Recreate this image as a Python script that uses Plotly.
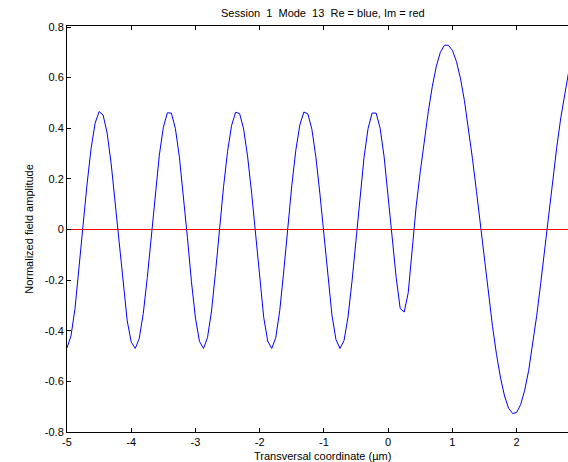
import plotly.graph_objects as go

# Transversal coordinate (µm)
x_um = [-5.0, -4.9375, -4.875, -4.8125, -4.75, -4.6875, -4.625, -4.5625, -4.5, -4.4375,
        -4.375, -4.3125, -4.25, -4.1875, -4.125, -4.0625, -4.0, -3.9375, -3.875, -3.8125,
        -3.75, -3.6875, -3.625, -3.5625, -3.5, -3.4375, -3.375, -3.3125, -3.25, -3.1875,
        -3.125, -3.0625, -3.0, -2.9375, -2.875, -2.8125, -2.75, -2.6875, -2.625, -2.5625,
        -2.5, -2.4375, -2.375, -2.3125, -2.25, -2.1875, -2.125, -2.0625, -2.0, -1.9375,
        -1.875, -1.8125, -1.75, -1.6875, -1.625, -1.5625, -1.5, -1.4375, -1.375, -1.3125,
        -1.25, -1.1875, -1.125, -1.0625, -1.0, -0.9375, -0.875, -0.8125, -0.75, -0.6875,
        -0.625, -0.5625, -0.5, -0.4375, -0.375, -0.3125, -0.25, -0.1875, -0.125, -0.0625,
        0.0, 0.0625, 0.125, 0.1875, 0.25, 0.3125, 0.375, 0.4375, 0.5, 0.5625,
        0.625, 0.6875, 0.75, 0.8125, 0.875, 0.9375, 1.0, 1.0625, 1.125, 1.1875,
        1.25, 1.3125, 1.375, 1.4375, 1.5, 1.5625, 1.625, 1.6875, 1.75, 1.8125,
        1.875, 1.9375, 2.0, 2.0625, 2.125, 2.1875, 2.25, 2.3125, 2.375, 2.4375,
        2.5, 2.5625, 2.625, 2.6875, 2.75, 2.8125, 2.875]

# Real part (blue)
re_part = [-0.468, -0.420, -0.312, -0.158, 0.016, 0.180, 0.320, 0.420, 0.466, 0.452,
           0.381, 0.260, 0.107, -0.062, -0.227, -0.361, -0.445, -0.470, -0.430, -0.332,
           -0.190, -0.021, 0.146, 0.294, 0.404, 0.461, 0.460, 0.399, 0.286, 0.137,
           -0.032, -0.206, -0.350, -0.442, -0.470, -0.427, -0.322, -0.169, 0.008, 0.169,
           0.309, 0.411, 0.463, 0.458, 0.397, 0.287, 0.143, -0.022, -0.199, -0.347,
           -0.441, -0.470, -0.427, -0.320, -0.164, 0.015, 0.174, 0.313, 0.413, 0.464,
           0.457, 0.396, 0.286, 0.141, -0.023, -0.194, -0.338, -0.435, -0.470, -0.439,
           -0.346, -0.204, -0.034, 0.136, 0.286, 0.399, 0.460, 0.460, 0.400, 0.287,
           0.137, -0.030, -0.190, -0.312, -0.326, -0.250, -0.060, 0.095, 0.228, 0.354,
           0.466, 0.565, 0.645, 0.700, 0.728, 0.728, 0.708, 0.664, 0.598, 0.509,
           0.402, 0.280, 0.151, 0.014, -0.124, -0.258, -0.383, -0.494, -0.587, -0.658,
           -0.706, -0.727, -0.723, -0.692, -0.636, -0.557, -0.458, -0.341, -0.213, -0.077,
           0.061, 0.196, 0.325, 0.441, 0.543, 0.626, 0.687]

# Imaginary part (red) - zero everywhere
im_part = [0.0] * len(x_um)

x_ticks = [-5, -4, -3, -2, -1, 0, 1, 2]
y_ticks = [-0.8, -0.6, -0.4, -0.2, 0, 0.2, 0.4, 0.6, 0.8]
y_tick_text = ["-0.8", "-0.6", "-0.4", "-0.2", "0", "0.2", "0.4", "0.6", "0.8"]

FONT = "Liberation Sans, Arial, sans-serif"
NB = "\u00a0"

fig = go.Figure()
fig.add_trace(go.Scatter(x=x_um, y=re_part, mode="lines",
                         line=dict(color="#0000ff", width=1), showlegend=False))
fig.add_trace(go.Scatter(x=x_um, y=im_part, mode="lines",
                         line=dict(color="#ff0000", width=1), showlegend=False))

fig.update_layout(
    width=568, height=462,
    margin=dict(l=67, r=0, t=26, b=30),
    paper_bgcolor="white", plot_bgcolor="white",
    font=dict(family=FONT, size=11, color="black"),
    showlegend=False,
    xaxis=dict(range=[-5, 2.8], tickvals=x_ticks, ticktext=[str(v) for v in x_ticks],
               ticks="inside", ticklen=4, tickcolor="black", showline=True,
               linecolor="black", linewidth=1, mirror="ticks", showgrid=False,
               zeroline=False, tickfont=dict(size=11, family=FONT)),
    yaxis=dict(range=[-0.8, 0.804], tickvals=y_ticks, ticktext=y_tick_text,
               ticks="inside", ticklen=4, tickcolor="black", showline=True,
               linecolor="black", linewidth=1, showgrid=False, zeroline=False,
               tickfont=dict(size=11, family=FONT),
               title=dict(text="Normalized field amplitude", font=dict(size=11, family=FONT),
                          standoff=8)),
    annotations=[
        dict(text=f"Session{NB}{NB}1{NB}{NB}Mode{NB}{NB}13{NB}{NB}Re = blue, Im = red",
             xref="paper", yref="paper", x=(323 - 67) / 501, y=1.0, yshift=5,
             xanchor="center", yanchor="bottom", showarrow=False,
             font=dict(size=11, family=FONT)),
        dict(text="Transversal coordinate (µm)",
             xref="paper", yref="paper", x=(322 - 67) / 501, y=0, yshift=-16,
             xanchor="center", yanchor="top", showarrow=False,
             font=dict(size=11, family=FONT)),
    ],
)

fig.write_html("out.html")
